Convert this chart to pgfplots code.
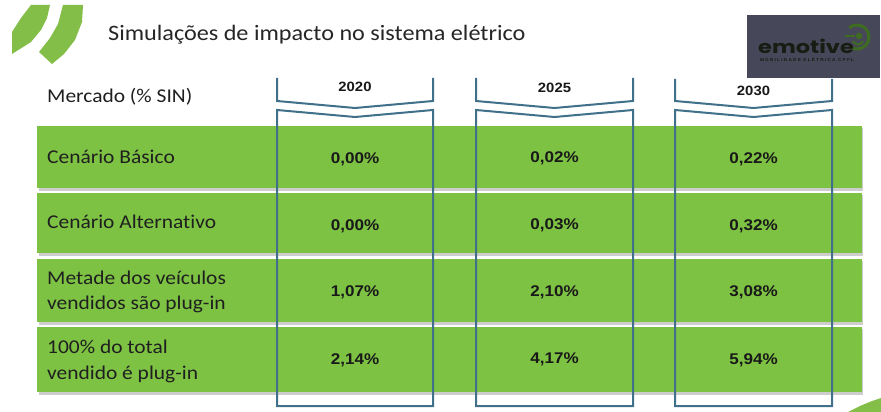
\documentclass[border=0pt]{standalone}
\usepackage{pgfplots}
\pgfplotsset{compat=1.18}
\usepackage{fontspec}
\setmainfont[FakeStretch=1.1, Ligatures={NoCommon}]{Carlito}
\newfontfamily\valfont[FakeStretch=1.1]{Liberation Sans}
\newfontfamily\logofont[FakeStretch=1.25]{Poppins}
\definecolor{rowgreen}{RGB}{125,194,67}
\definecolor{swoosh}{RGB}{131,190,72}
\definecolor{linebl}{RGB}{64,112,138}
\definecolor{logobg}{RGB}{70,71,88}
\definecolor{logogreen}{RGB}{62,108,32}
\definecolor{logotext}{RGB}{24,28,18}
\definecolor{shadowgray}{RGB}{205,205,205}
\pgfplotsset{
  rowlabel/.style={draw=none, mark=none, nodes near coords, point meta=explicit symbolic,
    every node near coord/.append style={anchor=west, inner sep=0pt, text=black!88,
      font=\fontsize{19.5}{22}\selectfont}},
  vallabel/.style={draw=none, mark=none, nodes near coords, point meta=explicit symbolic,
    every node near coord/.append style={anchor=center, inner sep=0pt, text=black!90,
      font=\valfont\bfseries\fontsize{15.5}{18}\selectfont}},
  headlabel/.style={draw=none, mark=none, nodes near coords, point meta=explicit symbolic,
    every node near coord/.append style={anchor=center, inner sep=0pt, text=black!90,
      font=\valfont\bfseries\fontsize{13.5}{16}\selectfont}},
  bracket/.style={linebl, line width=2pt, mark=none},
}
\begin{document}
\begin{tikzpicture}
\begin{axis}[
  width=881pt, height=412pt, scale only axis,
  xmin=0, xmax=881, ymin=0, ymax=412, y dir=reverse,
  hide axis, clip=false,
]
% background
\addplot[fill=white, draw=none] coordinates {(0,0) (881,0) (881,412) (0,412)} -- cycle;
% row shadows
\addplot[fill=shadowgray, draw=none] coordinates {(39,128) (863,128) (863,190.5) (39,190.5)} -- cycle;
\addplot[fill=shadowgray, draw=none] coordinates {(39,195) (863,195) (863,255.5) (39,255.5)} -- cycle;
\addplot[fill=shadowgray, draw=none] coordinates {(39,261) (863,261) (863,324.5) (39,324.5)} -- cycle;
\addplot[fill=shadowgray, draw=none] coordinates {(39,329) (863,329) (863,394.5) (39,394.5)} -- cycle;
% rows
\addplot[fill=rowgreen, draw=none] coordinates {(37,126) (862,126) (862,188) (37,188)} -- cycle;
\addplot[fill=rowgreen, draw=none] coordinates {(37,193) (862,193) (862,253) (37,253)} -- cycle;
\addplot[fill=rowgreen, draw=none] coordinates {(37,259) (862,259) (862,322) (37,322)} -- cycle;
\addplot[fill=rowgreen, draw=none] coordinates {(37,327) (862,327) (862,392) (37,392)} -- cycle;
% brackets 2020
\addplot[bracket] coordinates {(277,78) (277,101) (355,108) (433,101) (433,78)};
\addplot[bracket] coordinates {(277,110) (355,117) (433,110) (433,406) (277,406)} -- cycle;
% brackets 2025
\addplot[bracket] coordinates {(476,78) (476,101) (554.5,108) (633,101) (633,78)};
\addplot[bracket] coordinates {(476,110) (554.5,117) (633,110) (633,406) (476,406)} -- cycle;
% brackets 2030
\addplot[bracket] coordinates {(675,79) (675,101) (753.5,108) (832,101) (832,79)};
\addplot[bracket] coordinates {(675,110) (753.5,117) (832,110) (832,406) (675,406)} -- cycle;
% headers
\addplot[headlabel] coordinates {(355,87) [2020] (554.5,88) [2025] (753.5,91) [2030]};
% row labels
\addplot[rowlabel] coordinates {
  (47,97) [Mercado (\% SIN)]
  (47,157) [Cenário Básico]
  (47,222) [Cenário Alternativo]
  (47,278) [Metade dos veículos]
  (47,304) [vendidos são plug-in]
  (47,347) [100\% do total]
  (47,374) [vendido é plug-in]
};
% values
\addplot[vallabel] coordinates {
  (355,159) [0,00\%] (554.5,158) [0,02\%] (753.5,159) [0,22\%]
  (355,226) [0,00\%] (554.5,225) [0,03\%] (753.5,226) [0,32\%]
  (355,292) [1,07\%] (554.5,292) [2,10\%] (753.5,292) [3,08\%]
  (355,360) [2,14\%] (554.5,359) [4,17\%] (753.5,360) [5,94\%]
};
% title
\addplot[draw=none, mark=none, nodes near coords, point meta=explicit symbolic,
  every node near coord/.append style={anchor=west, inner sep=0pt, text=black!85,
    font=\fontsize{22}{26}\selectfont}]
  coordinates {(108,35) [Simulações de impacto no sistema elétrico]};
% top-left swoosh
\addplot[fill=swoosh, draw=none] coordinates {(31,5) (50,5) (47,18) (41,30) (31,42) (12,54) (12,32) (21,18)} -- cycle;
\addplot[fill=swoosh, draw=none] coordinates {(63,5) (83,5) (82,22) (75,40) (64,54) (52,64) (39,52) (50,38) (58,24)} -- cycle;
% bottom-right swoosh
\addplot[fill=swoosh, draw=none] coordinates {(848,412) (860,406) (872,401) (881,398) (881,412)} -- cycle;
% logo
\addplot[fill=logobg, draw=none] coordinates {(747,15) (880,15) (880,78) (747,78)} -- cycle;
\addplot[logogreen, line width=3pt, mark=none] coordinates {(849.3,27.8) (853,25.6) (857,25) (861.5,25.9) (865.5,28.5) (868,32) (869,37) (868,42) (865.5,45.5) (861.5,48.1) (857,49) (853,48.4) (849.3,46.2)};
\addplot[logogreen, line width=2pt, mark=none] coordinates {(853,41) (855,43.5) (858,44.5) (861,43.5) (863,41)};
\addplot[logogreen, line width=2.5pt, mark=none] coordinates {(845,36) (855,36)};
\addplot[logogreen, only marks, mark=*, mark size=3pt] coordinates {(859,36)};
\addplot[draw=none, mark=none, nodes near coords, point meta=explicit symbolic,
  every node near coord/.append style={anchor=center, inner sep=0pt, text=logotext,
    font=\logofont\bfseries\fontsize{18}{20}\selectfont}]
  coordinates {(806,46) [emotive]};
\addplot[draw=none, mark=none, nodes near coords, point meta=explicit symbolic,
  every node near coord/.append style={anchor=center, inner sep=0pt, text=logotext,
    font=\valfont\bfseries\fontsize{4.2}{5}\selectfont}]
  coordinates {(807,60) [M O B I L I D A D E\ \ E L É T R I C A\ \ C P F L]};
\end{axis}
\end{tikzpicture}
\end{document}
